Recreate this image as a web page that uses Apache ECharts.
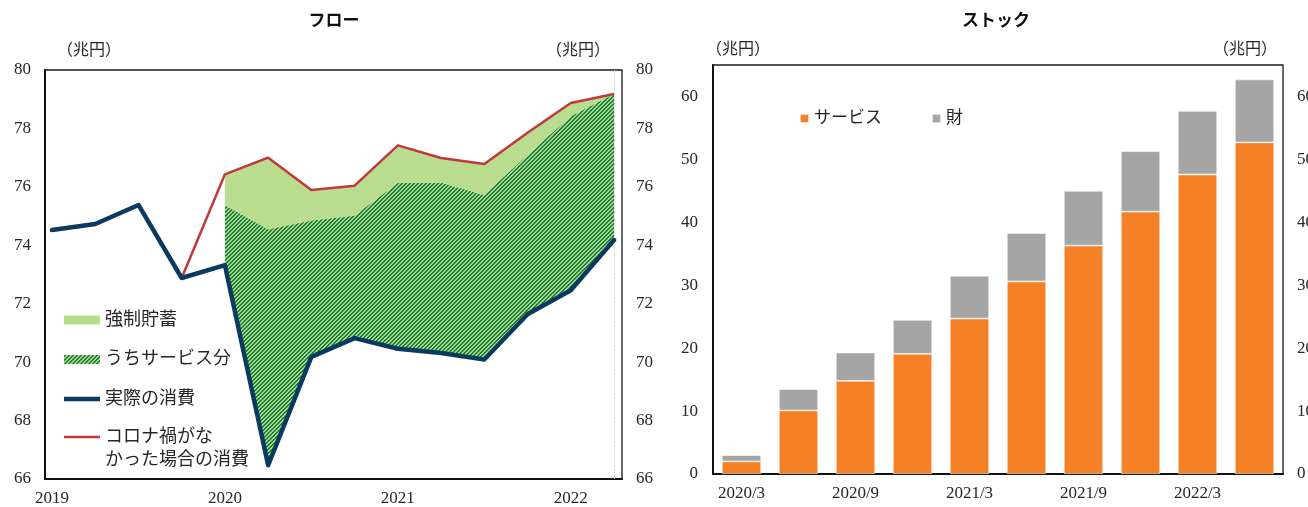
<!DOCTYPE html>
<html><head><meta charset="utf-8">
<script src="https://cdn.jsdelivr.net/npm/echarts@6/dist/echarts.min.js"></script>
<style>html,body{margin:0;padding:0;background:#fff}#c{width:1308px;height:507px}</style>
</head><body><div id="c"></div>
<script>
// ---- data ----
const quarters = ['2019Q1','2019Q2','2019Q3','2019Q4','2020Q1','2020Q2','2020Q3','2020Q4','2021Q1','2021Q2','2021Q3','2021Q4','2022Q1','2022Q2'];
const yearLabels = ['2019','2020','2021','2022'];
const yearLabelQuarters = ['2019Q1','2020Q1','2021Q1','2022Q1'];
const actual = [74.52,74.73,75.38,72.88,73.32,66.47,70.18,70.82,70.46,70.31,70.09,71.64,72.46,74.18];
const noCovid = [null,null,null,72.88,76.43,77.00,75.89,76.04,77.42,76.99,76.78,77.85,78.87,79.18];
const serviceTop = [null,null,null,null,75.38,74.55,74.85,75.02,76.13,76.15,75.72,77.10,78.42,79.18];
const months = ['2020/3','2020/6','2020/9','2020/12','2021/3','2021/6','2021/9','2021/12','2022/3','2022/6'];
const services = [2.0,10.1,14.8,19.1,24.7,30.6,36.3,41.7,47.6,52.7];
const goods = [1.0,3.4,4.5,5.4,6.8,7.7,8.7,9.6,10.1,10.0];

// ---- styles ----
const SERIF = "'Liberation Serif','Noto Sans CJK JP',serif";
const TXT = '#262626';
const NAVY = '#0a3a60';
const RED = '#c0393b';
const LGREEN = '#b9dc8f';
const ORANGE = '#f58025';
const GRAY = '#a5a5a5';

function makeHatch() {
  const c = document.createElement('canvas');
  c.width = 4; c.height = 4;
  const ctx = c.getContext('2d');
  const img = ctx.createImageData(4, 4);
  const dark = [30, 127, 54], light = [165, 216, 142];
  for (let y = 0; y < 4; y++) for (let x = 0; x < 4; x++) {
    const col = ((x + y) % 4) < 2 ? dark : light;
    const k = (y * 4 + x) * 4;
    img.data[k] = col[0]; img.data[k+1] = col[1]; img.data[k+2] = col[2]; img.data[k+3] = 255;
  }
  ctx.putImageData(img, 0, 0);
  return { image: c, repeat: 'repeat' };
}
const HATCH = makeHatch();

const baseVals = actual.map((v, i) => serviceTop[i] == null ? null : v);
const hatchVals = serviceTop.map((v, i) => v == null ? null : +(v - actual[i]).toFixed(3));
const forcedVals = noCovid.map((v, i) => (v == null || serviceTop[i] == null) ? null : +(v - serviceTop[i]).toFixed(3));

const chart = echarts.init(document.getElementById('c'), null, { renderer: 'canvas' });
const axisLab = { fontFamily: SERIF, fontSize: 17, color: TXT };
const unitFont = "16px " + SERIF;

chart.setOption({
  animation: false,
  backgroundColor: '#fff',
  graphic: [
    { type: 'text', x: 334, y: 20, style: { text: 'フロー', font: "bold 17px 'Noto Sans CJK JP'", fill: '#111', align: 'center', verticalAlign: 'middle' } },
    { type: 'text', x: 996, y: 20, style: { text: 'ストック', font: "bold 17px 'Noto Sans CJK JP'", fill: '#111', align: 'center', verticalAlign: 'middle' } },
    { type: 'text', x: 89, y: 51, style: { text: '（兆円）', font: unitFont, fill: TXT, align: 'center', verticalAlign: 'middle' } },
    { type: 'text', x: 578, y: 51, style: { text: '（兆円）', font: unitFont, fill: TXT, align: 'center', verticalAlign: 'middle' } },
    { type: 'text', x: 738, y: 50, style: { text: '（兆円）', font: unitFont, fill: TXT, align: 'center', verticalAlign: 'middle' } },
    { type: 'text', x: 1245, y: 50, style: { text: '（兆円）', font: unitFont, fill: TXT, align: 'center', verticalAlign: 'middle' } }
  ],
  grid: [
    { left: 45, top: 70, width: 577, height: 409, show: true, borderColor: '#1a1a1a', borderWidth: 1.3, backgroundColor: 'transparent', outerBoundsMode: 'none', containLabel: false },
    { left: 713, top: 65, width: 570, height: 409, show: true, borderColor: '#1a1a1a', borderWidth: 1.3, backgroundColor: 'transparent', outerBoundsMode: 'none', containLabel: false },
    { left: 52, top: 70, width: 562, height: 409, show: false, outerBoundsMode: 'none', containLabel: false }
  ],
  legend: [
    {
      orient: 'vertical', left: 64, top: 310, padding: 0, itemGap: 19.5, itemWidth: 36, itemHeight: 9,
      textStyle: { fontFamily: SERIF, fontSize: 18, color: TXT, lineHeight: 20 },
      data: [
        { name: '強制貯蓄', icon: 'rect', itemStyle: { color: LGREEN, borderWidth: 0 } },
        { name: 'うちサービス分', icon: 'rect', itemStyle: { color: HATCH, borderWidth: 0 } },
        { name: '実際の消費', icon: 'path://M0,0L36,0L36,4.5L0,4.5Z', itemStyle: { color: NAVY, borderWidth: 0 } }
      ]
    },
    {
      orient: 'vertical', left: 64, top: 402.5, padding: 0, itemWidth: 36, itemHeight: 9,
      formatter: () => ' \nコロナ禍がな\nかった場合の消費',
      textStyle: { fontFamily: SERIF, fontSize: 18, color: TXT, lineHeight: 23 },
      data: [
        { name: 'コロナ禍がなかった場合の消費', icon: 'path://M0,0L36,0L36,2.5L0,2.5Z', itemStyle: { color: RED, borderWidth: 0 } }
      ]
    },
    {
      orient: 'horizontal', left: 799, top: 110, padding: 0, itemGap: 49, itemWidth: 9, itemHeight: 9,
      textStyle: { fontFamily: SERIF, fontSize: 17, color: TXT },
      data: [ { name: 'サービス', icon: 'rect' }, { name: '財', icon: 'rect' } ]
    }
  ],
  xAxis: [
    {
      gridIndex: 0, type: 'value', min: 0, max: 1,
      axisLine: { show: true, onZero: false, lineStyle: { color: '#111', width: 2 } },
      axisTick: { show: false }, splitLine: { show: false }, axisLabel: { show: false }
    },
    {
      gridIndex: 1, type: 'category', data: months,
      axisLine: { show: true, onZero: false, lineStyle: { color: '#111', width: 2 } },
      axisTick: { show: false },
      axisLabel: Object.assign({}, axisLab, { margin: 11, interval: 1 })
    },
    {
      gridIndex: 2, type: 'category', data: quarters, boundaryGap: false,
      axisLine: { show: false }, axisTick: { show: false }, splitLine: { show: false },
      axisLabel: Object.assign({}, axisLab, {
        margin: 11, interval: 0,
        formatter: q => { const k = yearLabelQuarters.indexOf(q); return k >= 0 ? yearLabels[k] : ''; }
      })
    }
  ],
  yAxis: [
    { gridIndex: 0, type: 'value', min: 66, max: 80, interval: 2, position: 'left',
      axisLine: { show: true, onZero: false, lineStyle: { color: '#111', width: 2 } }, axisTick: { show: false }, splitLine: { show: false },
      axisLabel: Object.assign({}, axisLab, { margin: 14 }) },
    { gridIndex: 0, type: 'value', min: 66, max: 80, interval: 2, position: 'right',
      axisLine: { show: false, onZero: false }, axisTick: { show: false }, splitLine: { show: false },
      axisLabel: Object.assign({}, axisLab, { margin: 14 }) },
    { gridIndex: 1, type: 'value', min: 0, max: 65, interval: 10, position: 'left',
      axisLine: { show: true, onZero: false, lineStyle: { color: '#111', width: 2 } }, axisTick: { show: false }, splitLine: { show: false },
      axisLabel: Object.assign({}, axisLab, { margin: 15, showMaxLabel: false }) },
    { gridIndex: 1, type: 'value', min: 0, max: 65, interval: 10, position: 'right',
      axisLine: { show: false, onZero: false }, axisTick: { show: false }, splitLine: { show: false },
      axisLabel: Object.assign({}, axisLab, { margin: 14, showMaxLabel: false }) },
    { gridIndex: 2, type: 'value', min: 66, max: 80, show: false }
  ],
  series: [
    { name: 'base', type: 'line', xAxisIndex: 2, yAxisIndex: 4, stack: 'flow', data: baseVals,
      symbol: 'none', lineStyle: { width: 0, opacity: 0 }, silent: true, z: 1 },
    { name: 'うちサービス分', type: 'line', xAxisIndex: 2, yAxisIndex: 4, stack: 'flow', data: hatchVals,
      symbol: 'none', lineStyle: { width: 0, opacity: 0 }, itemStyle: { color: '#3a9a4a' },
      areaStyle: { color: HATCH, opacity: 1 }, z: 2,
      markLine: { silent: true, symbol: 'none', label: { show: false },
        lineStyle: { color: '#cfe5c2', type: 'dashed', width: 1 }, data: [{ xAxis: '2022Q2' }] } },
    { name: '強制貯蓄', type: 'line', xAxisIndex: 2, yAxisIndex: 4, stack: 'flow', data: forcedVals,
      symbol: 'none', lineStyle: { width: 0, opacity: 0 }, itemStyle: { color: LGREEN },
      areaStyle: { color: LGREEN, opacity: 1 }, z: 2 },
    { name: 'コロナ禍がなかった場合の消費', type: 'line', xAxisIndex: 2, yAxisIndex: 4, data: noCovid,
      symbol: 'none', itemStyle: { color: RED }, lineStyle: { color: RED, width: 2.5, join: 'round' }, z: 4 },
    { name: '実際の消費', type: 'line', xAxisIndex: 2, yAxisIndex: 4, data: actual,
      symbol: 'none', itemStyle: { color: NAVY }, lineStyle: { color: NAVY, width: 4.5, join: 'round', cap: 'round' }, z: 5 },
    { name: 'サービス', type: 'bar', xAxisIndex: 1, yAxisIndex: 2, stack: 'stock', data: services, barWidth: '69%',
      itemStyle: { color: ORANGE, borderColor: 'rgba(255,255,255,0.7)', borderWidth: 0.8 } },
    { name: '財', type: 'bar', xAxisIndex: 1, yAxisIndex: 2, stack: 'stock', data: goods, barWidth: '69%',
      itemStyle: { color: GRAY, borderColor: 'rgba(255,255,255,0.7)', borderWidth: 0.8 } }
  ]
});
</script>
</body></html>
